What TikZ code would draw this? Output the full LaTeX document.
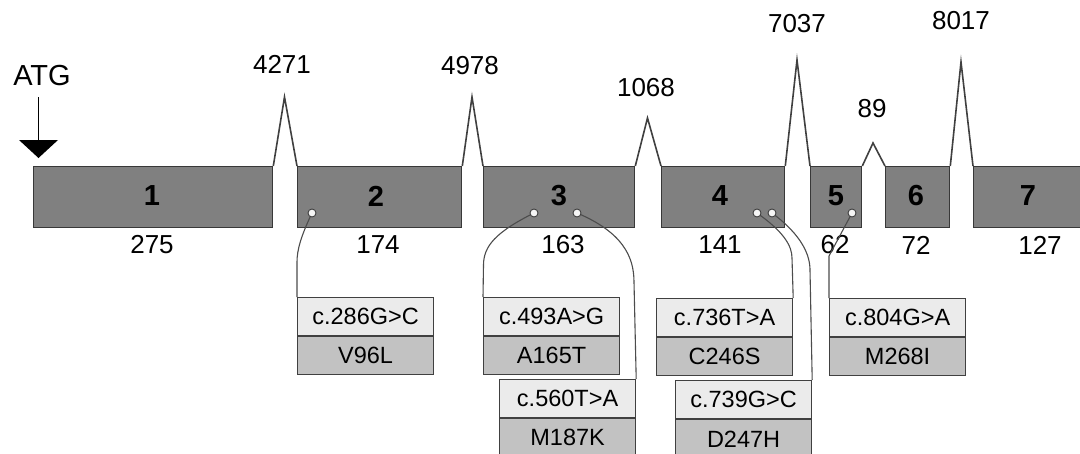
\documentclass[tikz,border=0pt]{standalone}
\usepackage{fontspec}
\setmainfont{Liberation Sans}
\begin{document}
\begin{tikzpicture}[x=1pt,y=-1pt,
  exon/.style={draw=black!78,line width=1.3pt,fill=black!50,anchor=north west,inner sep=0pt,minimum height=61pt,font=\fontsize{29}{30}\selectfont\bfseries},
  intron/.style={draw=black!75,line width=1.6pt,line join=miter},
  num/.style={font=\fontsize{26}{28}\selectfont,inner sep=0pt},
  topbox/.style={draw=black!75,line width=1.2pt,fill=black!8,anchor=north west,minimum width=136pt,minimum height=38pt,inner sep=0pt,font=\fontsize{23.5}{25}\selectfont},
  botbox/.style={draw=black!75,line width=1.2pt,fill=black!24,anchor=north,minimum width=136pt,minimum height=38pt,inner sep=0pt,font=\fontsize{23.5}{25}\selectfont},
  conn/.style={draw=black!70,line width=1.1pt},
  dot/.style={circle,draw=black!75,fill=black!4,line width=0.9pt,minimum size=8pt,inner sep=0pt}]
\useasboundingbox (0,0) rectangle (1080,453);
\fill[white] (0,0) rectangle (1080,453);
% exons
\node[exon,minimum width=239pt] (e1) at (33,166) {};
\node[exon,minimum width=164pt] (e2) at (297,166) {};
\node[exon,minimum width=151pt] (e3) at (483,166) {};
\node[exon,minimum width=123pt] (e4) at (661,166) {};
\node[exon,minimum width=51pt] (e5) at (810,166) {};
\node[exon,minimum width=64pt] (e6) at (885,166) {};
\node[exon,minimum width=115pt] (e7) at (973,166) {};
\foreach \n/\x in {1/152,2/376,3/559,4/720,5/836,6/916,7/1028}
  \node[font=\fontsize{29}{30}\selectfont\bfseries,inner sep=0pt] (n\n) at (\x,196) {\n};
% introns
\coordinate (p1) at (284.5,97);
\coordinate (p2) at (472,97);
\coordinate (p3) at (647.5,118);
\coordinate (p4) at (797,60);
\coordinate (p5) at (873,143);
\coordinate (p6) at (961,62);
\draw[intron] (e1.north east) -- (p1) -- (e2.north west);
\draw[intron] (e2.north east) -- (p2) -- (e3.north west);
\draw[intron] (e3.north east) -- (p3) -- (e4.north west);
\draw[intron] (e4.north east) -- (p4) -- (e5.north west);
\draw[intron] (e5.north east) -- (p5) -- (e6.north west);
\draw[intron] (e6.north east) -- (p6) -- (e7.north west);
\node[num] (i1) at (282,64) {4271};
\node[num] (i2) at (470,66) {4978};
\node[num] (i3) at (646,88) {1068};
\node[num] (i4) at (797,24) {7037};
\node[num] (i5) at (872,109) {89};
\node[num] (i6) at (961,21) {8017};
% sizes
\node[num] (s1) at (152,245) {275};
\node[num] (s2) at (378,245) {174};
\node[num] (s3) at (563,245) {163};
\node[num] (s4) at (720,245) {141};
\node[num] (s5) at (835,245) {62};
\node[num] (s6) at (916,245) {72};
\node[num] (s7) at (1040,245) {127};
% ATG
\node[font=\fontsize{29}{30}\selectfont,inner sep=0pt] (atg) at (42,76) {ATG};
\coordinate (atgtip) at (38.5,158);
\draw[black,line width=1.2pt] (38.5,97) -- (38.5,141);
\fill[black] (19,140) -- (58,140) -- (atgtip) -- cycle;
% mutation boxes
\node[topbox] (t1) at (297,297) {c.286G>C};
\node[botbox] (b1) at (t1.south) {V96L};
\node[topbox] (t2) at (483,297) {c.493A>G};
\node[botbox] (b2) at (t2.south) {A165T};
\node[topbox] (t3) at (499,379) {c.560T>A};
\node[botbox] (b3) at (t3.south) {M187K};
\node[topbox] (t4) at (656,298) {c.736T>A};
\node[botbox] (b4) at (t4.south) {C246S};
\node[topbox] (t5) at (675,380) {c.739G>C};
\node[botbox] (b5) at (t5.south) {D247H};
\node[topbox] (t6) at (829,298) {c.804G>A};
\node[botbox] (b6) at (t6.south) {M268I};
% mutation sites
\coordinate (d1) at (312,213);
\coordinate (d2) at (534,213);
\coordinate (d3) at (577,213);
\coordinate (d4) at (757,213);
\coordinate (d5) at (772,213);
\coordinate (d6) at (852,213);
\coordinate (c1) at (297,262);
\coordinate (c2) at (483.5,265);
\coordinate (c3) at (634,282);
\coordinate (c4) at (792,258);
\coordinate (c5) at (810,270);
\coordinate (c6) at (829,256);
\draw[conn] (d1) .. controls (301,236) and (297,250) .. (c1) -- (t1.north west);
\draw[conn] (d2) .. controls (496,232) and (483.5,246) .. (c2) -- (t2.north west);
\draw[conn] (d3) .. controls (622,232) and (634,256) .. (c3) -- (t3.north east);
\draw[conn] (d4) .. controls (784,232) and (792,246) .. (c4) -- (t4.north east);
\draw[conn] (d5) .. controls (803,236) and (810,256) .. (c5) -- (t5.north east);
\draw[conn] (d6) -- (c6) -- (t6.north west);
\foreach \d in {1,...,6} \node[dot] (m\d) at (d\d) {};
\end{tikzpicture}
\end{document}
